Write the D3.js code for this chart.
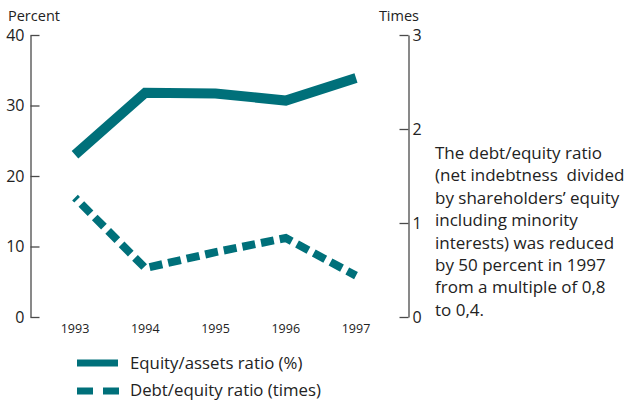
<!DOCTYPE html>
<html>
<head>
<meta charset="utf-8">
<script src="https://cdn.jsdelivr.net/npm/d3@7"></script>
<style>
  html, body { margin: 0; padding: 0; background: #fff; }
  svg { display: block; font-family: "Open Sans", "Noto Sans", sans-serif; }
</style>
</head>
<body>
<svg id="chart" width="626" height="404"></svg>
<script>
// Data
const years = ["1993", "1994", "1995", "1996", "1997"];
const equityAssets = [23, 31.8, 31.7, 30.7, 33.9];   // percent
const debtEquity = [1.27, 0.52, 0.69, 0.84, 0.44];    // times
const leftTicks = [0, 10, 20, 30, 40];
const rightTicks = [0, 1, 2, 3];
const legendLabels = ["Equity/assets ratio (%)", "Debt/equity ratio (times)"];
const noteLines = [
  "The debt/equity ratio",
  "(net indebtness  divided",
  "by shareholders\u2019 equity",
  "including minority",
  "interests) was reduced",
  "by 50 percent in 1997",
  "from a multiple of 0,8",
  "to 0,4."
];

const teal = "#00707a";
const axisGrey = "#4a4a4a";
const textCol = "#222";

const svg = d3.select("#chart");
svg.append("rect").attr("width", 626).attr("height", 404).attr("fill", "#fff");

const x = d3.scalePoint().domain(years).range([75, 356]);
const yL = d3.scaleLinear().domain([0, 40]).range([317, 35]);
const yR = d3.scaleLinear().domain([0, 3]).range([317, 35]);

// Left axis (percent): ticks point inward, labels outside
const gL = svg.append("g").attr("transform", "translate(30.5,0)")
  .call(d3.axisRight(yL).tickValues(leftTicks).tickFormat(d3.format("d"))
    .tickSize(9).tickSizeOuter(0));
gL.select(".domain").attr("stroke", axisGrey).attr("stroke-width", 1.3);
gL.selectAll(".tick line").attr("stroke", axisGrey).attr("stroke-width", 1.3);
gL.selectAll(".tick text").attr("x", -6).attr("text-anchor", "end")
  .attr("font-size", 16).attr("fill", textCol).attr("font-family", "Open Sans, sans-serif");

// Right axis (times)
const gR = svg.append("g").attr("transform", "translate(408.5,0)")
  .call(d3.axisLeft(yR).tickValues(rightTicks).tickFormat(d3.format("d"))
    .tickSize(9).tickSizeOuter(0));
gR.select(".domain").attr("stroke", axisGrey).attr("stroke-width", 1.3);
gR.selectAll(".tick line").attr("stroke", axisGrey).attr("stroke-width", 1.3);
gR.selectAll(".tick text").attr("x", 4).attr("text-anchor", "start")
  .attr("font-size", 16).attr("fill", textCol).attr("font-family", "Open Sans, sans-serif");

// Axis titles
svg.append("text").attr("x", 8).attr("y", 21).attr("font-size", 14.5)
  .attr("fill", textCol).text("Percent");
svg.append("text").attr("x", 419).attr("y", 21).attr("font-size", 14.5)
  .attr("text-anchor", "end").attr("fill", textCol).text("Times");

// Year labels
svg.append("g").selectAll("text").data(years).join("text")
  .attr("x", d => x(d)).attr("y", 333).attr("text-anchor", "middle")
  .attr("font-size", 12.5).attr("fill", textCol).text(d => d);

// Lines
const lineL = d3.line().x((d, i) => x(years[i])).y(d => yL(d));
const lineR = d3.line().x((d, i) => x(years[i])).y(d => yR(d));

svg.append("path").datum(equityAssets).attr("d", lineL)
  .attr("fill", "none").attr("stroke", teal).attr("stroke-width", 10)
  .attr("stroke-linejoin", "miter").attr("stroke-linecap", "butt");

svg.append("path").datum(debtEquity).attr("d", lineR)
  .attr("fill", "none").attr("stroke", teal).attr("stroke-width", 8)
  .attr("stroke-dasharray", "13,6").attr("stroke-dashoffset", 10)
  .attr("stroke-linejoin", "miter").attr("stroke-linecap", "butt");

// Legend
const lg = svg.append("g");
lg.append("line").attr("x1", 77).attr("x2", 118).attr("y1", 363).attr("y2", 363)
  .attr("stroke", teal).attr("stroke-width", 7);
lg.append("line").attr("x1", 77).attr("x2", 119).attr("y1", 391).attr("y2", 391)
  .attr("stroke", teal).attr("stroke-width", 7).attr("stroke-dasharray", "16,10");
lg.selectAll("text").data(legendLabels).join("text")
  .attr("x", 130).attr("y", (d, i) => 369 + i * 27)
  .attr("font-size", 16.8).attr("fill", textCol).text(d => d);

// Note
svg.append("g").selectAll("text").data(noteLines).join("text")
  .attr("x", 435).attr("y", (d, i) => 159 + i * 22.4)
  .attr("font-size", 17).attr("fill", textCol)
  .attr("xml:space", "preserve").style("white-space", "pre").text(d => d);
</script>
</body>
</html>
